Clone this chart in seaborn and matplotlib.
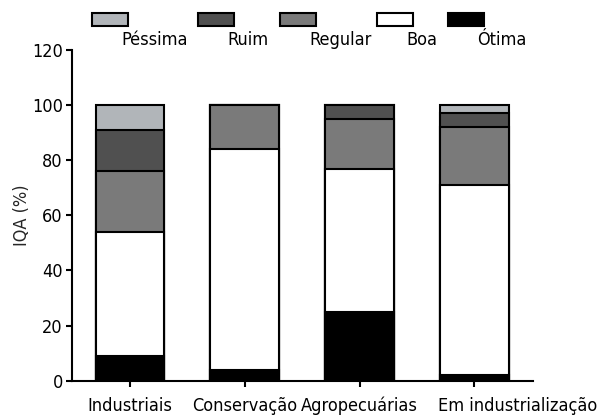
import matplotlib
matplotlib.use("Agg")
import matplotlib.pyplot as plt
from matplotlib import font_manager
from matplotlib.patches import Rectangle
from matplotlib.transforms import offset_copy
import pandas as pd
import seaborn as sns

# Water quality index (IQA) class shares per land-use type, in percent
categories = ["Industriais", "Conservação", "Agropecuárias", "Em industrialização"]
classes = ["Péssima", "Ruim", "Regular", "Boa", "Ótima"]
otima = [9, 4, 25, 2]
boa = [45, 80, 52, 69]
regular = [22, 16, 18, 21]
ruim = [15, 0, 5, 5]
pessima = [9, 0, 0, 3]
colors = ["#b1b5b9", "#505050", "#7a7a7a", "#ffffff", "#000000"]
y_ticks = [0, 20, 40, 60, 80, 100, 120]

sns.set_theme(style="ticks")

# prefer a narrow face for the labels
fonts = font_manager.fontManager.ttflist
names = {f.name for f in fonts}
narrow = [f for f in fonts if f.name == "DejaVu Sans" and f.stretch in ("condensed", 400)
          and f.weight in ("normal", 400) and f.style == "normal"]
if "Liberation Sans Narrow" in names:
    plt.rcParams["font.family"] = ["Liberation Sans Narrow", "DejaVu Sans"]
elif narrow:
    plt.rcParams["font.family"] = ["DejaVu Sans"]
    plt.rcParams["font.stretch"] = "condensed"
else:
    plt.rcParams["font.family"] = ["Roboto", "DejaVu Sans"]
fsize = 13

df = pd.DataFrame({"categoria": categories, "Ótima": otima, "Boa": boa,
                   "Regular": regular, "Ruim": ruim, "Péssima": pessima})
# stacked from the bottom: Ótima, Boa, Regular, Ruim, Péssima
stack_order = ["Ótima", "Boa", "Regular", "Ruim", "Péssima"]
cum = df[stack_order].cumsum(axis=1)

fig = plt.figure(figsize=(6.02, 4.19), dpi=100)
ax = fig.add_axes([72 / 602, (419 - 380.7) / 419, (533 - 72) / 602, (380.7 - 50) / 419])

# draw cumulative totals tallest first so each lower segment overlays the previous
for cls in ["Péssima", "Ruim", "Regular", "Boa", "Ótima"]:
    color = colors[classes.index(cls)]
    sns.barplot(x=df["categoria"], y=cum[cls], color=color, width=0.6,
                edgecolor="black", linewidth=1.5, saturation=1, ax=ax,
                order=categories)

ax.set_ylim(0, 120)
ax.set_xlim(-0.505, 3.51)
ax.set_yticks(y_ticks)
ax.set_yticklabels([str(t) for t in y_ticks])
ax.set_xlabel("")
ax.set_ylabel("IQA (%)", fontsize=fsize, labelpad=1)
for side in ["top", "right"]:
    ax.spines[side].set_visible(False)
for side in ["left", "bottom"]:
    ax.spines[side].set_linewidth(1.5)
    ax.spines[side].set_color("black")
ax.tick_params(axis="both", length=4.5, width=1.5, color="black",
               labelsize=fsize, labelcolor="black")
ax.tick_params(axis="y", pad=2)
ax.tick_params(axis="x", pad=7)

# the long last category label starts at its bar's left edge
last = ax.get_xticklabels()[-1]
last.set_horizontalalignment("left")
last.set_transform(offset_copy(last.get_transform(), fig=fig, x=-26.5, y=0, units="points"))

# legend row above the plot: box with its label set slightly lower and to the right
legend_x = [92, 198, 280, 377, 448]
for cls, x0 in zip(classes, legend_x):
    color = colors[classes.index(cls)]
    fig.add_artist(Rectangle((x0 / 602, (419 - 26) / 419), 36 / 602, 12.5 / 419,
                             transform=fig.transFigure, facecolor=color,
                             edgecolor="black", linewidth=1.5))
    fig.text((x0 + 29) / 602, (419 - 45) / 419, cls, fontsize=fsize,
             ha="left", va="baseline", color="black")

fig.savefig("out.png", dpi=100)
